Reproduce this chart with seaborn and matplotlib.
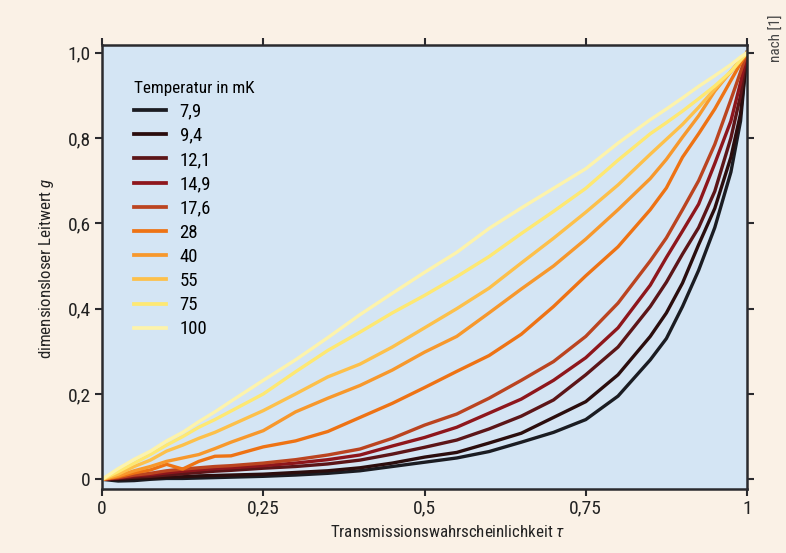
import matplotlib
matplotlib.use("Agg")
import matplotlib.pyplot as plt
import matplotlib.font_manager as fm
import seaborn as sns
import pandas as pd

# ---------------- data ----------------
tau = [0.0, 0.025, 0.05, 0.075, 0.1, 0.125, 0.15, 0.175, 0.2, 0.25, 0.3, 0.35,
       0.4, 0.45, 0.5, 0.55, 0.6, 0.65, 0.7, 0.75, 0.8, 0.85, 0.875, 0.9,
       0.925, 0.95, 0.975, 0.99, 1.0]

g_7_9 = [0.0, -0.004, -0.003, 0.0, 0.002, 0.002, 0.003, 0.004, 0.005, 0.007, 0.01, 0.014,
         0.02, 0.03, 0.04, 0.05, 0.065, 0.087, 0.11, 0.14, 0.195, 0.28, 0.33, 0.405,
         0.49, 0.59, 0.72, 0.84, 1.0]
g_9_4 = [0.0, 0.0, 0.002, 0.003, 0.005, 0.006, 0.008, 0.009, 0.01, 0.012, 0.016, 0.02,
         0.027, 0.038, 0.052, 0.063, 0.085, 0.108, 0.145, 0.182, 0.245, 0.335, 0.39, 0.46,
         0.55, 0.635, 0.755, 0.857, 1.0]
g_12_1 = [0.0, 0.002, 0.005, 0.007, 0.01, 0.013, 0.016, 0.019, 0.021, 0.026, 0.03, 0.036,
          0.045, 0.059, 0.075, 0.092, 0.118, 0.148, 0.186, 0.245, 0.31, 0.405, 0.462, 0.528,
          0.59, 0.675, 0.80, 0.90, 1.0]
g_14_9 = [0.0, 0.003, 0.008, 0.011, 0.015, 0.019, 0.022, 0.025, 0.027, 0.032, 0.038, 0.046,
          0.057, 0.078, 0.098, 0.122, 0.155, 0.188, 0.232, 0.285, 0.355, 0.455, 0.52, 0.582,
          0.645, 0.74, 0.84, 0.93, 1.0]
g_17_6 = [0.0, 0.004, 0.01, 0.014, 0.02, 0.024, 0.027, 0.03, 0.032, 0.038, 0.046, 0.057,
          0.071, 0.096, 0.127, 0.153, 0.19, 0.232, 0.276, 0.335, 0.413, 0.512, 0.566, 0.632,
          0.70, 0.785, 0.89, 0.955, 1.0]
g_28 = [0.0, 0.006, 0.015, 0.022, 0.035, 0.024, 0.042, 0.054, 0.055, 0.076, 0.09, 0.112,
        0.145, 0.178, 0.215, 0.253, 0.29, 0.34, 0.405, 0.477, 0.545, 0.632, 0.683, 0.755,
        0.81, 0.868, 0.935, 0.975, 1.0]
g_40 = [0.0, 0.008, 0.02, 0.03, 0.042, 0.05, 0.058, 0.072, 0.087, 0.114, 0.158, 0.19,
        0.22, 0.256, 0.298, 0.335, 0.39, 0.446, 0.5, 0.563, 0.632, 0.705, 0.75, 0.802,
        0.852, 0.91, 0.956, 0.984, 1.0]
g_55 = [0.0, 0.012, 0.03, 0.045, 0.066, 0.08, 0.096, 0.11, 0.127, 0.161, 0.2, 0.24,
        0.27, 0.31, 0.355, 0.4, 0.448, 0.507, 0.565, 0.626, 0.69, 0.762, 0.797, 0.832,
        0.872, 0.915, 0.955, 0.982, 1.0]
g_75 = [0.0, 0.018, 0.038, 0.058, 0.08, 0.1, 0.122, 0.14, 0.16, 0.2, 0.252, 0.302,
        0.345, 0.39, 0.431, 0.475, 0.522, 0.576, 0.628, 0.682, 0.748, 0.81, 0.836, 0.863,
        0.892, 0.922, 0.956, 0.983, 1.0]
g_100 = [0.0, 0.025, 0.047, 0.066, 0.09, 0.11, 0.135, 0.158, 0.183, 0.232, 0.28, 0.332,
         0.386, 0.436, 0.485, 0.532, 0.588, 0.636, 0.682, 0.728, 0.788, 0.843, 0.868, 0.894,
         0.921, 0.946, 0.972, 0.99, 1.0]

temp_labels = ["7,9", "9,4", "12,1", "14,9", "17,6", "28", "40", "55", "75", "100"]
series = [g_7_9, g_9_4, g_12_1, g_14_9, g_17_6, g_28, g_40, g_55, g_75, g_100]
line_colors = ["#1b1c22", "#2b0d0d", "#5c1518", "#8e161c", "#bb4420",
               "#ee7314", "#f7982c", "#fdc04a", "#fee872", "#fdf3ab"]

x_ticks = [0, 0.25, 0.5, 0.75, 1.0]
x_ticklabels = ["0", "0,25", "0,5", "0,75", "1"]
y_ticks = [0, 0.2, 0.4, 0.6, 0.8, 1.0]
y_ticklabels = ["0", "0,2", "0,4", "0,6", "0,8", "1,0"]

legend_title = "Temperatur in mK"
x_label = "Transmissionswahrscheinlichkeit $\\tau$"
y_label = "dimensionsloser Leitwert $g$"
source_note = "nach [1]"

# ---------------- fonts ----------------
avail = {f.name for f in fm.fontManager.ttflist}
family = "DejaVu Sans"
stretch = "normal"
for cand in ["Liberation Sans Narrow", "DejaVu Sans Condensed", "Roboto Condensed",
             "Open Sans Condensed"]:
    if cand in avail:
        family = cand
        break
else:
    if any(f.name == "DejaVu Sans" and f.stretch == "condensed" for f in fm.fontManager.ttflist):
        stretch = "condensed"

plt.rcParams["font.family"] = [family, "DejaVu Sans"]
plt.rcParams["font.stretch"] = stretch
plt.rcParams["mathtext.fontset"] = "custom"
plt.rcParams["mathtext.it"] = f"{family}:italic"
plt.rcParams["mathtext.rm"] = family

# ---------------- plot ----------------
rows = []
for lab, vals in zip(temp_labels, series):
    for t, g in zip(tau, vals):
        rows.append({"tau": t, "g": g, "T": lab})
df = pd.DataFrame(rows)

fig = plt.figure(figsize=(7.86, 5.53), dpi=100, facecolor="#faf1e6")
ax = fig.add_axes([0.1298, 0.1163, 0.8206, 0.8023])
ax.set_facecolor("#d4e5f4")

sns.lineplot(data=df, x="tau", y="g", hue="T", hue_order=temp_labels,
             palette=dict(zip(temp_labels, line_colors)), linewidth=2.4,
             estimator=None, sort=False, ax=ax)

ax.set_xlim(0, 1)
ax.set_ylim(-0.022, 1.018)
ax.set_xticks(x_ticks)
ax.set_xticklabels(x_ticklabels)
ax.set_yticks(y_ticks)
ax.set_yticklabels(y_ticklabels)
ax.tick_params(axis="both", which="both", direction="out", length=5, width=1.5,
               color="#2a2a2e", labelsize=14, labelcolor="#222222", pad=3,
               top=True, right=True, labeltop=False, labelright=False)
for sp in ax.spines.values():
    sp.set_color("#2a2a2e")
    sp.set_linewidth(1.8)

ax.set_xlabel(x_label, fontsize=12.2, color="#222222")
ax.set_ylabel(y_label, fontsize=12.2, color="#222222")
ax.xaxis.set_label_coords(0.536, -0.080)
ax.yaxis.set_label_coords(-0.072, 0.497)

handles, labels = ax.get_legend_handles_labels()
leg = ax.legend(handles, labels, title=legend_title, loc="upper left",
                bbox_to_anchor=(0.049, 0.918), frameon=False, fontsize=13.5,
                title_fontsize=12.3, handlelength=1.75, handletextpad=0.7,
                labelspacing=0.33, borderpad=0, borderaxespad=0, alignment="left")
for h in leg.get_lines():
    h.set_linewidth(2.7)

fig.text(0.988, 0.93, source_note, rotation=90, fontsize=11, color="#444444",
         ha="center", va="center")

fig.savefig("out.png", dpi=100, facecolor=fig.get_facecolor())
